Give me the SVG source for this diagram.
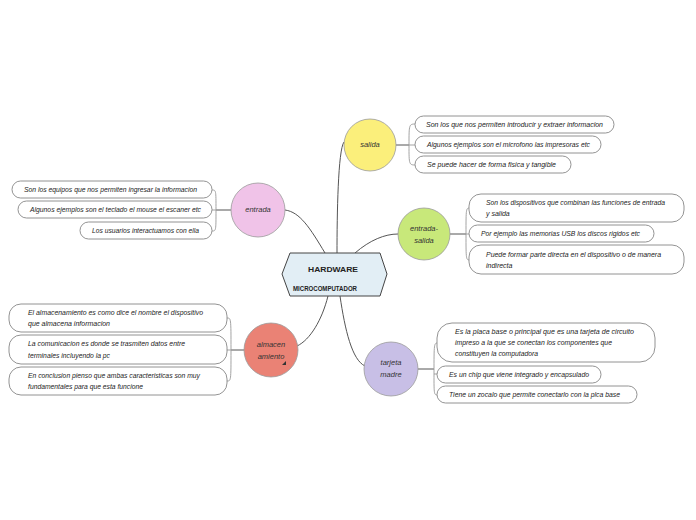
<svg xmlns="http://www.w3.org/2000/svg" width="696" height="520" viewBox="0 0 696 520">
<style>
.bg{fill:#ffffff}
.box{fill:#ffffff;stroke:#777;stroke-width:0.8}
.t{font-family:"Liberation Sans",Arial,sans-serif;font-style:italic;font-size:7px;fill:#222}
.nt{font-family:"Liberation Sans",Arial,sans-serif;font-style:italic;font-size:7.5px;fill:#333;text-anchor:middle}
.conn{fill:none;stroke:#555;stroke-width:1}
.br{fill:none;stroke:#999;stroke-width:0.9}
.circ{stroke:#9a9a9a;stroke-width:0.8}
</style>
<rect class="bg" x="0" y="0" width="696" height="520"/>
<g id="connectors">
<path class="conn" d="M337,253 C337,215 338,150 344,142"/>
<path class="conn" d="M325,253 C310,228 300,212 285,210"/>
<path class="conn" d="M355,253 C370,240 385,234 398,234"/>
<path class="conn" d="M328,296 C322,320 310,340 297,346"/>
<path class="conn" d="M340,296 C345,330 352,360 365,366"/>
<path class="conn" d="M396,145 H409"/>
<path class="br" d="M409,145 C409,124 409,124 416,124 M409,145 H416 M409,145 C409,165 409,165 416,165"/>
<path class="conn" d="M231,210 H216"/>
<path class="br" d="M216,210 C216,190 216,190 212,190 M216,210 H212 M216,210 C216,231 216,231 212,231"/>
<path class="conn" d="M450,234 H466"/>
<path class="br" d="M466,234 C466,208 466,208 470,208 M466,234 H470 M466,234 C466,260 466,260 470,260"/>
<path class="conn" d="M244,350 H231"/>
<path class="br" d="M231,350 C231,318 231,318 227,318 M231,350 H227 M231,350 C231,381 231,381 227,381"/>
<path class="conn" d="M418,369 H434"/>
<path class="br" d="M434,374 C434,343 434,343 438,343 M434,374 H438 M434,374 C434,395 434,395 438,395"/>
</g>
<g id="center">
<polygon points="282,274 290,253 380,253 387,274 380,296 290,296" fill="#e2eef5" stroke="#444" stroke-width="1"/>
<text x="333" y="272" font-family="Liberation Sans,Arial,sans-serif" font-size="8" font-weight="bold" fill="#222" text-anchor="middle" textLength="50" lengthAdjust="spacingAndGlyphs">HARDWARE</text>
<text x="293" y="291" font-family="Liberation Sans,Arial,sans-serif" font-size="7" font-weight="bold" fill="#222" textLength="64" lengthAdjust="spacingAndGlyphs">MICROCOMPUTADOR</text>
</g>
<g id="salida">
<circle class="circ" cx="370" cy="145" r="26" fill="#fbef7b"/>
<text class="nt" x="370" y="147">salida</text>
</g>
<g id="salida-1"><rect class="box" x="415" y="116" width="199" height="17" rx="8.5"/><text class="t" x="426" y="127" textLength="177" lengthAdjust="spacingAndGlyphs">Son los que nos permiten introducir y extraer informacion</text></g>
<g id="salida-2"><rect class="box" x="415" y="136" width="186" height="17" rx="8.5"/><text class="t" x="427" y="147" textLength="163" lengthAdjust="spacingAndGlyphs">Algunos ejemplos son el microfono las impresoras etc</text></g>
<g id="salida-3"><rect class="box" x="415" y="156" width="156" height="17" rx="8.5"/><text class="t" x="427" y="167" textLength="129" lengthAdjust="spacingAndGlyphs">Se puede hacer de forma fisica y tangible</text></g>
<g id="entrada">
<circle class="circ" cx="258" cy="210" r="27" fill="#f0c3e8"/>
<text class="nt" x="258" y="212">entrada</text>
</g>
<g id="entrada-1"><rect class="box" x="12" y="181" width="200" height="17" rx="8.5"/><text class="t" x="24" y="192" textLength="173" lengthAdjust="spacingAndGlyphs">Son los equipos que nos permiten ingresar la informacion</text></g>
<g id="entrada-2"><rect class="box" x="18" y="201" width="194" height="17" rx="8.5"/><text class="t" x="30" y="212" textLength="171" lengthAdjust="spacingAndGlyphs">Algunos ejemplos son el teclado el mouse el escaner etc</text></g>
<g id="entrada-3"><rect class="box" x="80" y="222" width="132" height="17" rx="8.5"/><text class="t" x="92" y="233" textLength="107" lengthAdjust="spacingAndGlyphs">Los usuarios interactuamos con ella</text></g>
<g id="entrada-salida">
<circle class="circ" cx="424" cy="234" r="26" fill="#c8e87a"/>
<text class="nt" x="424" y="231">entrada-</text>
<text class="nt" x="424" y="243">salida</text>
</g>
<g id="es-1"><rect class="box" x="469" y="194" width="215" height="28" rx="12"/><text class="t" x="486" y="205" textLength="179" lengthAdjust="spacingAndGlyphs">Son los dispositivos que combinan las funciones de entrada</text><text class="t" x="486" y="216">y salida</text></g>
<g id="es-2"><rect class="box" x="469" y="225" width="185" height="17" rx="8.5"/><text class="t" x="481" y="236" textLength="159" lengthAdjust="spacingAndGlyphs">Por ejemplo las memorias USB los discos rigidos etc</text></g>
<g id="es-3"><rect class="box" x="469" y="245" width="215" height="29" rx="12"/><text class="t" x="486" y="257" textLength="175" lengthAdjust="spacingAndGlyphs">Puede formar parte directa en el dispositivo o de manera</text><text class="t" x="486" y="268">indirecta</text></g>
<g id="almacenamiento">
<circle class="circ" cx="271" cy="350" r="27" fill="#ea8275"/>
<text class="nt" x="271" y="347">almacen</text>
<text class="nt" x="271" y="359">amiento</text>
<polygon points="286,361 286,365 282,365" fill="#333"/>
</g>
<g id="alm-1"><rect class="box" x="9" y="304" width="218" height="28" rx="12"/><text class="t" x="28" y="315" textLength="175" lengthAdjust="spacingAndGlyphs">El almacenamiento es como dice el nombre el dispositivo</text><text class="t" x="28" y="326" textLength="82" lengthAdjust="spacingAndGlyphs">que almacena informacion</text></g>
<g id="alm-2"><rect class="box" x="9" y="335" width="218" height="29" rx="12"/><text class="t" x="28" y="346" textLength="157" lengthAdjust="spacingAndGlyphs">La comunicacion es donde se trasmiten datos entre</text><text class="t" x="28" y="358" textLength="82" lengthAdjust="spacingAndGlyphs">terminales incluyendo la pc</text></g>
<g id="alm-3"><rect class="box" x="9" y="367" width="218" height="28" rx="12"/><text class="t" x="28" y="378" textLength="172" lengthAdjust="spacingAndGlyphs">En conclusion pienso que ambas caracteristicas son muy</text><text class="t" x="28" y="389" textLength="115" lengthAdjust="spacingAndGlyphs">fundamentales para que esta funcione</text></g>
<g id="tarjeta-madre">
<circle class="circ" cx="391" cy="369" r="27" fill="#c8bfe6"/>
<text class="nt" x="391" y="365">tarjeta</text>
<text class="nt" x="391" y="377">madre</text>
</g>
<g id="tm-1"><rect class="box" x="437" y="323" width="218" height="39" rx="15"/><text class="t" x="455" y="334" textLength="179" lengthAdjust="spacingAndGlyphs">Es la placa base o principal que es una tarjeta de circuito</text><text class="t" x="455" y="345" textLength="157" lengthAdjust="spacingAndGlyphs">impreso a la que se conectan los componentes que</text><text class="t" x="455" y="356" textLength="83" lengthAdjust="spacingAndGlyphs">constituyen la computadora</text></g>
<g id="tm-2"><rect class="box" x="437" y="366" width="164" height="17" rx="8.5"/><text class="t" x="449" y="377" textLength="140" lengthAdjust="spacingAndGlyphs">Es un chip que viene integrado y encapsulado</text></g>
<g id="tm-3"><rect class="box" x="437" y="386" width="200" height="17" rx="8.5"/><text class="t" x="449" y="397" textLength="171" lengthAdjust="spacingAndGlyphs">Tiene un zocalo que permite conectarlo con la plca base</text></g>
</svg>
